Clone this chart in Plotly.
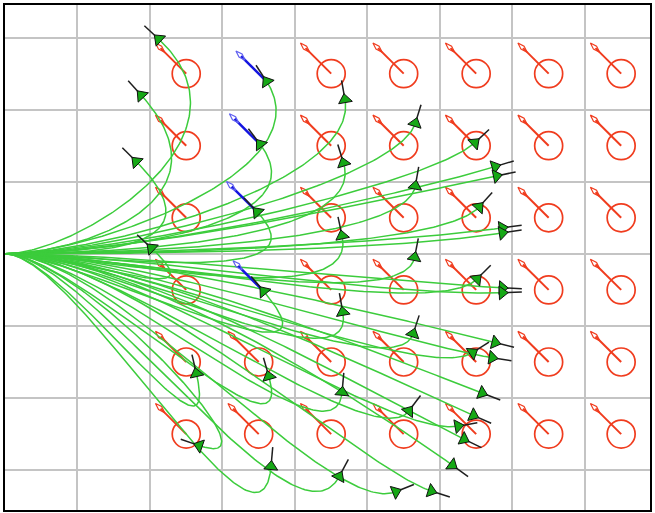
import numpy as np
import plotly.graph_objects as go

# Goal poses: a regular lattice, every goal facing up-left (135 deg)
goal_cols = [2.5, 3.5, 4.5, 5.5, 6.5, 7.5, 8.5]
goal_rows = [2.5, 1.5, 0.5, -0.5, -1.5, -2.5]
goal_heading = 135.0
goals_reached = [(3.5, 2.5), (3.5, 1.5), (3.5, 0.5), (3.5, -0.5)]

# Final poses of the rollouts (x, y, heading in degrees)
end_x = [2.12, 1.88, 1.81, 2.02, 2.64, 2.68,
         3.61, 3.52, 3.48, 3.57, 3.64, 3.67,
         4.69, 4.67, 4.65, 4.66, 4.65, 4.61,
         5.66, 5.66, 5.65, 5.63, 5.57, 5.39,
         6.48, 6.54, 6.51, 6.45, 6.25, 5.88,
         6.76, 6.78, 6.86, 6.86, 6.86, 6.86,
         6.76, 6.72, 6.58, 6.46, 6.33, 6.17]
end_y = [2.98, 2.20, 1.28, 0.08, -1.66, -2.66,
         2.39, 1.52, 0.58, -0.52, -1.70, -2.95,
         2.14, 1.26, 0.25, -0.81, -1.92, -3.09,
         1.81, 0.94, -0.05, -1.11, -2.18, -3.30,
         1.54, 0.65, -0.35, -1.37, -2.39, -3.29,
         1.21, 1.08, 0.36, 0.29, -0.47, -0.54,
         -1.23, -1.44, -1.93, -2.24, -2.57, -2.93]
end_heading = [137, 132, 135, 137, 103, 161,
               123, 127, 133, 130, 106, 85,
               100, 107, 102, 100, 85, 62,
               73, 80, 79, 72, 53, 22,
               43, 48, 45, 33, 10, -18,
               17, 12, 8, 9, -3, 2,
               -14, -9, -21, -24, -26, -36]
# Tangent lengths at the start and end of each path
start_reach = [3.0, 3.0, 3.0, 3.0, 2.5, 3.0,
               3.5, 3.5, 3.5, 3.0, 3.0, 3.0,
               4.0, 4.0, 4.0, 4.0, 4.0, 3.5,
               4.5, 4.5, 4.5, 4.5, 4.5, 4.5,
               5.0, 5.0, 5.0, 5.0, 5.0, 5.0,
               5.5, 5.5, 5.5, 5.5, 5.5, 5.5,
               5.5, 5.5, 5.5, 5.5, 5.5, 5.5]
end_reach = [6.0, 6.0, 5.5, 4.0, 5.0, 4.0,
             4.5, 4.5, 4.5, 6.0, 4.5, 5.0,
             3.5, 3.5, 3.5, 3.5, 3.5, 4.0,
             2.5, 2.5, 2.5, 2.5, 2.5, 3.0,
             2.5, 2.5, 2.5, 2.5, 3.0, 3.0,
             4.0, 4.0, 5.0, 5.0, 5.0, 5.0,
             4.0, 4.0, 4.0, 4.0, 4.0, 4.0]
reached_path = [False] * 6 + [True, True, True, True, False, False] + [False] * 30

HEAD_LEN = 0.27      # black heading stroke
SHAFT_LEN = 0.50     # goal arrow shaft
TIP_BASE, TIP_MID, TIP_END, TIP_HALF = 0.42, 0.51, 0.60, 0.03

RED = "#f03c1e"
GREEN = "#3ccc3c"
BLUE = "#1414e0"

ux, uy = np.cos(np.radians(goal_heading)), np.sin(np.radians(goal_heading))
nx, ny = -uy, ux


def arrow_geometry(xs, ys):
    """Shaft and leaf-shaped tip outline for arrows anchored at (xs, ys)."""
    ax, ay, lx, ly = [], [], [], []
    for x0, y0 in zip(xs, ys):
        ax += [x0, x0 + SHAFT_LEN * ux, None]
        ay += [y0, y0 + SHAFT_LEN * uy, None]
        pts = [(TIP_BASE, 0), (TIP_MID, TIP_HALF), (TIP_END, 0),
               (TIP_MID, -TIP_HALF), (TIP_BASE, 0)]
        lx += [x0 + a * ux + b * nx for a, b in pts] + [None]
        ly += [y0 + a * uy + b * ny for a, b in pts] + [None]
    return ax, ay, lx, ly


fig = go.Figure()

# goal markers (reached goals are shown in blue at the rollout end instead)
gx = [cx for cx in goal_cols for cy in goal_rows if (cx, cy) not in goals_reached]
gy = [cy for cx in goal_cols for cy in goal_rows if (cx, cy) not in goals_reached]
sx, sy, tx, ty = arrow_geometry(gx, gy)
fig.add_trace(go.Scatter(x=sx, y=sy, mode="lines",
                         line=dict(color=RED, width=2), hoverinfo="skip"))
fig.add_trace(go.Scatter(x=tx, y=ty, mode="lines",
                         line=dict(color=RED, width=1.2), hoverinfo="skip"))
fig.add_trace(go.Scatter(x=gx, y=gy, mode="markers",
                         marker=dict(symbol="circle-open", size=28,
                                     color=RED, line=dict(width=1.7, color=RED)),
                         hoverinfo="skip"))

# rollout paths: cubic Hermite curves from the start pose (0, 0, 0 deg)
t = np.linspace(0, 1, 140)
h00 = 2 * t**3 - 3 * t**2 + 1
h10 = t**3 - 2 * t**2 + t
h01 = -2 * t**3 + 3 * t**2
h11 = t**3 - t**2
px, py = [], []
for x1, y1, hd, m0, m1 in zip(end_x, end_y, end_heading, start_reach, end_reach):
    c, s = np.cos(np.radians(hd)), np.sin(np.radians(hd))
    xs = h10 * m0 + h01 * x1 + h11 * m1 * c
    ys = h01 * y1 + h11 * m1 * s
    px += list(xs) + [None]
    py += list(ys) + [None]
fig.add_trace(go.Scatter(x=px, y=py, mode="lines",
                         line=dict(color=GREEN, width=1.5), hoverinfo="skip"))

# reached goals: blue arrow drawn from the final pose
rx = [x for x, ok in zip(end_x, reached_path) if ok]
ry = [y for y, ok in zip(end_y, reached_path) if ok]
bx, by, btx, bty = arrow_geometry(rx, ry)
fig.add_trace(go.Scatter(x=bx, y=by, mode="lines",
                         line=dict(color=BLUE, width=2.5), hoverinfo="skip"))
fig.add_trace(go.Scatter(x=btx, y=bty, mode="lines",
                         line=dict(color="#6060f0", width=1.2), hoverinfo="skip"))

# heading strokes and end markers
hx, hy = [], []
for x1, y1, hd in zip(end_x, end_y, end_heading):
    hx += [x1, x1 + HEAD_LEN * np.cos(np.radians(hd)), None]
    hy += [y1, y1 + HEAD_LEN * np.sin(np.radians(hd)), None]
fig.add_trace(go.Scatter(x=hx, y=hy, mode="lines",
                         line=dict(color="#1e1e1e", width=1.5), hoverinfo="skip"))
fig.add_trace(go.Scatter(x=end_x, y=end_y, mode="markers",
                         marker=dict(symbol="triangle-up", size=12,
                                     angle=[90 - h for h in end_heading],
                                     color="#16a816", line=dict(width=1, color="#111")),
                         hoverinfo="skip"))

axis_common = dict(showgrid=True, gridcolor="#c4c4c4", gridwidth=2, dtick=1,
                   zeroline=False, showticklabels=False, ticks="",
                   showline=True, linecolor="black", linewidth=2, mirror=True)
fig.update_xaxes(range=[0, 8.898], tick0=0, **axis_common)
fig.update_yaxes(range=[-3.553, 3.452], tick0=0, **axis_common)
fig.update_layout(width=655, height=513, showlegend=False,
                  margin=dict(l=5, r=3, t=3, b=3),
                  paper_bgcolor="white", plot_bgcolor="white")

fig.write_html("out.html")
